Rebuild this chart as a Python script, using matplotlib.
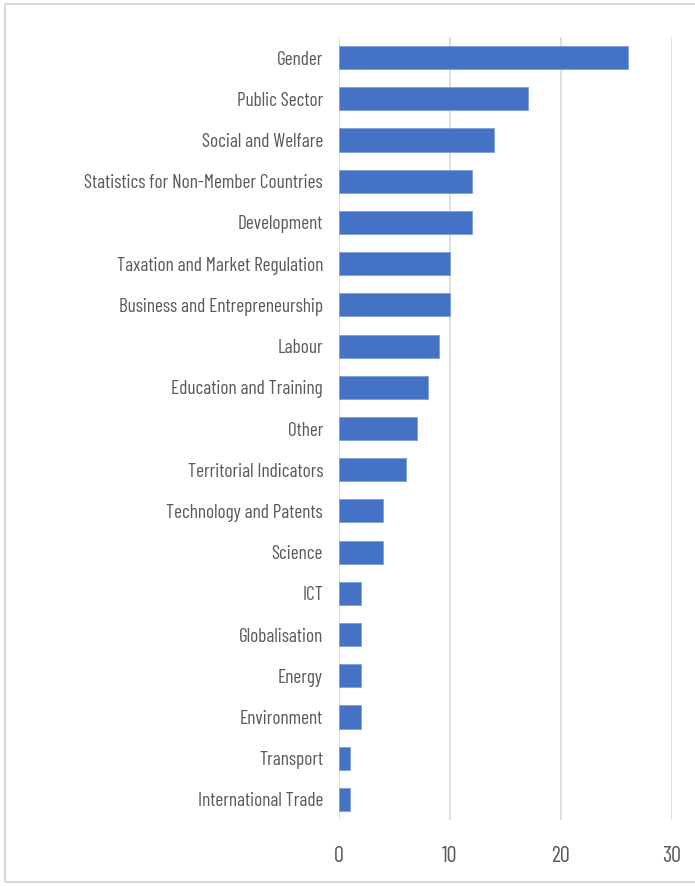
import matplotlib
matplotlib.use('Agg')
import matplotlib.pyplot as plt
from matplotlib.patches import Rectangle

# categories top to bottom, as in the chart
categories = ['Gender', 'Public Sector', 'Social and Welfare',
              'Statistics for Non-Member Countries', 'Development',
              'Taxation and Market Regulation', 'Business and Entrepreneurship',
              'Labour', 'Education and Training', 'Other', 'Territorial Indicators',
              'Technology and Patents', 'Science', 'ICT', 'Globalisation',
              'Energy', 'Environment', 'Transport', 'International Trade']
counts = [26, 17, 14, 12, 12, 10, 10, 9, 8, 7, 6, 4, 4, 2, 2, 2, 2, 1, 1]
xticks = [0, 10, 20, 30]

plt.rcParams['font.family'] = ['Barlow Condensed', 'Archivo Narrow', 'DejaVu Sans']
txt = '#595959'
fs = 13.9

fig = plt.figure(figsize=(6.95, 8.86), dpi=100)
ax = fig.add_axes([339/695, 1-820/886, (672-339)/695, (820-37)/886])

ypos = list(range(len(categories)))
ax.barh(ypos, counts, height=0.56, color='#4472C4', edgecolor='#7f9fd8', linewidth=0.6, zorder=3)
ax.set_yticks(ypos)
ax.set_yticklabels(categories, fontsize=fs, color=txt)
ax.set_ylim(len(categories) - 0.5, -0.5)
ax.set_xlim(0, 30)
ax.set_xticks(xticks)
ax.set_xticklabels([str(t) for t in xticks], fontsize=16, color=txt)
ax.tick_params(length=0, pad=11.5, axis='y')
ax.tick_params(length=0, pad=19, axis='x')
ax.grid(axis='x', color='#d9d9d9', linewidth=1.2, zorder=0)
for s in ax.spines.values():
    s.set_visible(False)

# outer border of the chart
fig.patches.append(Rectangle((5/695, 4/886), 1.0, 1 - 8/886, transform=fig.transFigure,
                             fill=False, edgecolor='#d9d9d9', linewidth=1.5))

fig.savefig('out.png', dpi=100)
